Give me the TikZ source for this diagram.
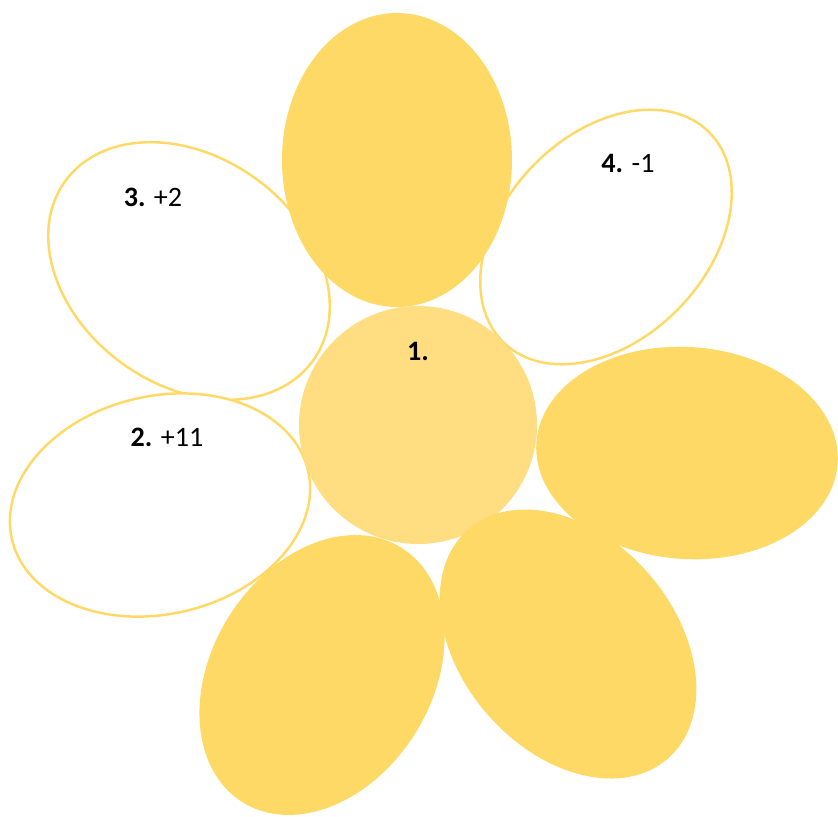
\documentclass[tikz,border=0pt]{standalone}
\usepackage{fontspec}
\setmainfont{Carlito}
\usetikzlibrary{positioning}

\definecolor{petalgold}{HTML}{FFD966}
\definecolor{heartgold}{HTML}{FFDD80}

\begin{document}
\begin{tikzpicture}[
  x=0.02cm, y=-0.02cm,
  every node/.style={font=\fontsize{16}{19}\selectfont},
  %% ── Petal styles ────────────────────────────────────────────────────────
  fullpetal/.style={fill=petalgold, draw=none},
  emptypetal/.style={draw=petalgold, line width=1.4pt, fill=white},
  heart/.style={fill=heartgold, draw=none},
  %% ── Label style ─────────────────────────────────────────────────────────
  tag/.style={inner sep=1pt, anchor=center},
]

\useasboundingbox (0,0) rectangle (838,816);

%% ═══════════════════════════════════════════════════════════════════════════
%% OPEN PETALS (outlined)
%% ═══════════════════════════════════════════════════════════════════════════

\path[emptypetal] (189,271) circle [x radius=153, y radius=114, rotate=-36];
\path[emptypetal] (606,237) circle [x radius=147, y radius=102, rotate=46];
\path[emptypetal] (160,505) circle [x radius=152, y radius=109, rotate=13];

%% ═══════════════════════════════════════════════════════════════════════════
%% HEART OF THE FLOWER
%% ═══════════════════════════════════════════════════════════════════════════

\path[heart] (418,425) circle [radius=119];

%% ═══════════════════════════════════════════════════════════════════════════
%% FILLED PETALS
%% ═══════════════════════════════════════════════════════════════════════════

\path[fullpetal] (397,160) circle [x radius=115, y radius=147];
\path[fullpetal] (687,453) circle [x radius=151, y radius=106, rotate=-4];
\path[fullpetal] (322,675) circle [x radius=150, y radius=110, rotate=58];
\path[fullpetal] (568,644) circle [x radius=152, y radius=107, rotate=-49];

%% ═══════════════════════════════════════════════════════════════════════════
%% LABELS
%% ═══════════════════════════════════════════════════════════════════════════

\node[tag] (one)   at (418,351) {\textbf{1.}};
\node[tag] (two)   at (167,437) {\textbf{2.} +11};
\node[tag] (three) at (153,197) {\textbf{3.} +2};
\node[tag] (four)  at (628,163) {\textbf{4.} -1};

\end{tikzpicture}
\end{document}
